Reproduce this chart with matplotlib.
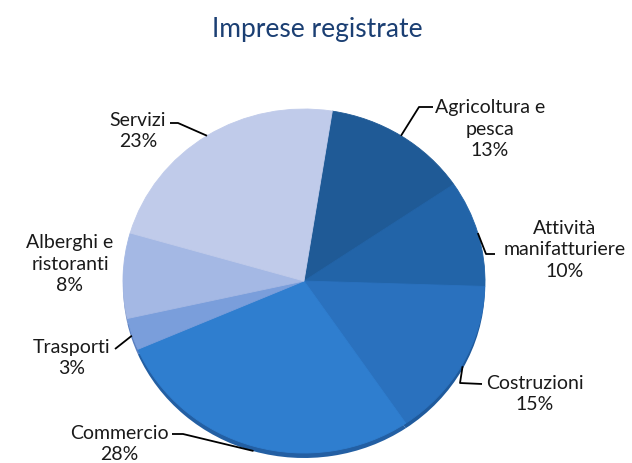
import matplotlib
matplotlib.use("Agg")
import matplotlib.pyplot as plt
import numpy as np

# data
categorie = ["Agricoltura e\npesca", "Attività\nmanifatturiere", "Costruzioni",
             "Commercio", "Trasporti", "Alberghi e\nristoranti", "Servizi"]
percentuali = [13, 10, 15, 28, 3, 8, 23]
colori = ["#1F5A96", "#2264A8", "#2A71BE", "#2F7ECF", "#7A9EDB", "#A4B8E4", "#C0CBEA"]
colori_bordo = ["#17467A", "#1A4F88", "#1F5A9C", "#235FA3", "#5A7FBF", "#7F97C8", "#97A9D3"]

plt.rcParams["font.family"] = ["Lato", "DejaVu Sans"]

W, H = 632, 464
fig = plt.figure(figsize=(W / 100, H / 100), dpi=100)
ax = fig.add_axes([0, 0, 1, 1])

# pie geometry in pixels (ellipse, 3D-like tilt)
cx, cy, rx, ry = 304, 282, 181, 172


def px(x, y):
    return (x - cx) / rx, (cy - y) / ry


# darker rim underneath, shifted down
rim = 5 / ry
ax.pie(percentuali, colors=colori_bordo, startangle=81, counterclock=False,
       center=(0, -rim), radius=1,
       wedgeprops=dict(linewidth=0.5, edgecolor="none"))
wedges, _ = ax.pie(percentuali, colors=colori, startangle=81, counterclock=False,
                   center=(0, 0), radius=1,
                   wedgeprops=dict(linewidth=0.6))
for w, c in zip(wedges, colori):
    w.set_edgecolor(c)

ax.set_aspect("auto")
ax.set_xlim(-cx / rx, (W - cx) / rx)
ax.set_ylim(-(H - cy) / ry, cy / ry)
ax.axis("off")

# label positions (pixels): text center, leader start, elbow
pos_testo = [(490, 129), (565, 250), (535, 394), (119, 444), (72, 358), (70, 264), (138, 131)]
leader = [[(433, 108), (419, 108)],
          [(495, 255), (486, 255)],
          [(482, 385), (460, 384)],
          [(172, 435), (183, 435)],
          [(115, 350)],
          None,
          [(170, 124), (178, 124)]]

for w, nome, p, (tx, ty), ld in zip(wedges, categorie, percentuali, pos_testo, leader):
    x, y = px(tx, ty)
    ax.text(x, y, f"{nome}\n{p}%", ha="center", va="center", fontsize=14,
            linespacing=1.3, color="#1A1A1A")
    if ld is None:
        continue
    th = np.deg2rad((w.theta1 + w.theta2) / 2)
    ex, ey = np.cos(th), np.sin(th)
    if ey < 0:
        ey = ey - rim * abs(ey)
    pts = [px(*q) for q in ld] + [(ex, ey)]
    ax.plot([q[0] for q in pts], [q[1] for q in pts], color="black", lw=1.3,
            solid_capstyle="butt")

fig.text(317 / W, 1 - 30 / H, "Imprese registrate", ha="center", va="center",
         fontsize=19, color="#1B3F73")

fig.savefig("out.png", dpi=100)
